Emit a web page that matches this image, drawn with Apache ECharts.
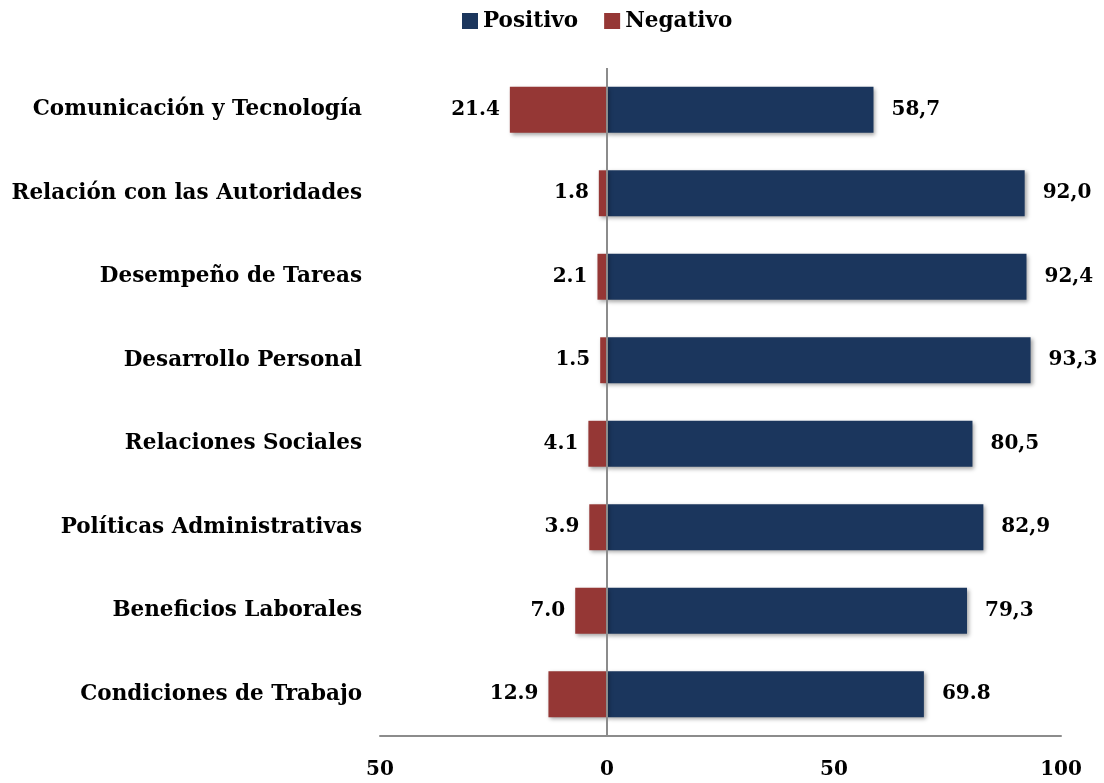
<!DOCTYPE html>
<html>
<head>
<meta charset="utf-8">
<script src="https://cdn.jsdelivr.net/npm/echarts@6/dist/echarts.min.js"></script>
<style>
  html, body { margin: 0; padding: 0; background: #fff; }
</style>
</head>
<body>
<div id="chart" style="width: 1104px; height: 783px"></div>
<script>
const categories = [
  'Comunicación y Tecnología',
  'Relación con las Autoridades',
  'Desempeño de Tareas',
  'Desarrollo Personal',
  'Relaciones Sociales',
  'Políticas Administrativas',
  'Beneficios Laborales',
  'Condiciones de Trabajo'
]
const positivo = [58.7, 92.0, 92.4, 93.3, 80.5, 82.9, 79.3, 69.8]
const negativo = [21.4, 1.8, 2.1, 1.5, 4.1, 3.9, 7.0, 12.9]
// labels as printed in the original (mixed decimal separators)
const positivoLabels = ['58,7', '92,0', '92,4', '93,3', '80,5', '82,9', '79,3', '69.8']
const negativoLabels = ['21.4', '1.8', '2.1', '1.5', '4.1', '3.9', '7.0', '12.9']
const xTicks = [-50, 0, 50, 100]

const font = 'DejaVu Serif'
const textStyle = { fontFamily: font, fontWeight: 'bold', fontSize: 20, color: '#000' }

let myChart = echarts.init(document.getElementById('chart'))

let option = {
  animation: false,
  legend: {
    top: 5,
    left: 457,
    icon: 'rect',
    itemWidth: 16,
    itemHeight: 16,
    itemGap: 26,
    textStyle: { ...textStyle, fontSize: 21.5 },
    data: ['Positivo', 'Negativo']
  },
  grid: {
    left: 380,
    right: 43,
    top: 68,
    bottom: 47
  },
  xAxis: {
    type: 'value',
    min: xTicks[0],
    max: xTicks[xTicks.length - 1],
    interval: 50,
    axisLine: { show: true, onZero: false, lineStyle: { color: '#8c8c8c', width: 2 } },
    axisTick: { show: false },
    splitLine: { show: false },
    axisLabel: {
      margin: 24,
      ...textStyle,
      formatter: v => String(Math.abs(v))
    }
  },
  yAxis: {
    type: 'category',
    inverse: true,
    data: categories,
    axisLine: { show: false },
    axisTick: { show: false },
    axisLabel: { margin: 18, ...textStyle, fontSize: 21.5 }
  },
  series: [
    {
      name: 'Positivo',
      type: 'bar',
      stack: 'total',
      barWidth: '55%',
      data: positivo,
      itemStyle: {
        color: '#1b365d',
        shadowColor: 'rgba(0,0,0,0.35)',
        shadowBlur: 4,
        shadowOffsetX: 2,
        shadowOffsetY: 2
      },
      label: {
        show: true,
        position: 'right',
        distance: 18,
        ...textStyle,
        formatter: p => positivoLabels[p.dataIndex]
      },
      markLine: {
        silent: true,
        symbol: 'none',
        label: { show: false },
        lineStyle: { color: '#8c8c8c', width: 2, type: 'solid' },
        data: [{ xAxis: 0 }]
      }
    },
    {
      name: 'Negativo',
      type: 'bar',
      stack: 'total',
      barWidth: '55%',
      data: negativo.map(v => -v),
      itemStyle: {
        color: '#953735',
        shadowColor: 'rgba(0,0,0,0.35)',
        shadowBlur: 4,
        shadowOffsetX: 2,
        shadowOffsetY: 2
      },
      label: {
        show: true,
        position: 'left',
        distance: 10,
        ...textStyle,
        formatter: p => negativoLabels[p.dataIndex]
      }
    }
  ]
}

myChart.setOption(option)
</script>
</body>
</html>
